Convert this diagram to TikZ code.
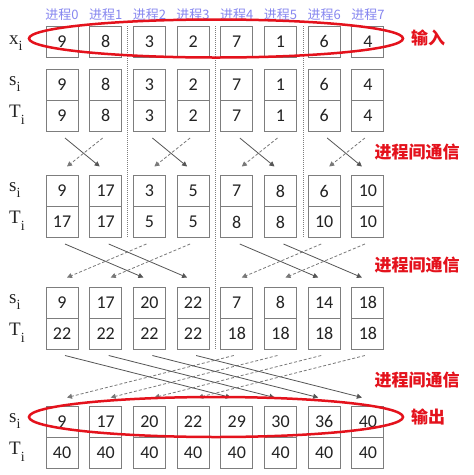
\documentclass[tikz,border=0pt]{standalone}
\usepackage{fontspec}
\setmainfont{Liberation Serif}
\newfontfamily\numfont{Carlito}
\newfontfamily\cjk{Noto Sans CJK SC}
\usetikzlibrary{arrows.meta}
\definecolor{boxgray}{RGB}{125,125,125}
\definecolor{numtext}{RGB}{35,35,35}
\definecolor{linegray}{RGB}{85,85,85}
\definecolor{dashgray}{RGB}{120,120,120}
\definecolor{procblue}{RGB}{135,135,240}
\definecolor{redmark}{RGB}{228,18,28}
\tikzset{
  cell/.style={draw=boxgray, line width=1pt, minimum width=32pt, minimum height=31pt,
    inner sep=0pt, text=numtext, font=\numfont\fontsize{18}{18}\selectfont},
  rowlab/.style={anchor=west, inner sep=0pt, text=numtext, font=\fontsize{19}{19}\selectfont},
  proclab/.style={inner sep=0pt, text=procblue, font=\cjk\fontsize{13}{13}\selectfont},
  redlab/.style={inner sep=0pt, text=redmark, font=\cjk\bfseries\fontsize{17}{17}\selectfont},
  solidarrow/.style={draw=linegray, line width=0.8pt, -{Triangle[width=5pt,length=5pt]}},
  dasharrow/.style={draw=dashgray, line width=0.8pt, dashed, dash pattern=on 3pt off 2pt, -{Triangle[width=5pt,length=5pt]}},
  sepline/.style={draw=boxgray, line width=1pt, densely dotted},
  redline/.style={draw=redmark, line width=2.5pt}
}
\begin{document}
\begin{tikzpicture}[x=1pt,y=-1pt]
\useasboundingbox (0,0) rectangle (474,475);
\fill[white] (0,0) rectangle (474,475);

% process labels
\foreach \i in {0,...,7}
  \node[proclab] (p-\i) at ({62+43.7*\i},15) {进程\i};

% row labels
\node[rowlab] (lx) at (9,43) {x\raisebox{-0.35em}{\fontsize{14}{14}\selectfont i}};
\node[rowlab] (ls1) at (9,84) {s\raisebox{-0.35em}{\fontsize{14}{14}\selectfont i}};
\node[rowlab] (lt1) at (9,115) {T\raisebox{-0.35em}{\fontsize{14}{14}\selectfont i}};
\node[rowlab] (ls2) at (9,190) {s\raisebox{-0.35em}{\fontsize{14}{14}\selectfont i}};
\node[rowlab] (lt2) at (9,221) {T\raisebox{-0.35em}{\fontsize{14}{14}\selectfont i}};
\node[rowlab] (ls3) at (9,302) {s\raisebox{-0.35em}{\fontsize{14}{14}\selectfont i}};
\node[rowlab] (lt3) at (9,333) {T\raisebox{-0.35em}{\fontsize{14}{14}\selectfont i}};
\node[rowlab] (ls4) at (9,421) {s\raisebox{-0.35em}{\fontsize{14}{14}\selectfont i}};
\node[rowlab] (lt4) at (9,452) {T\raisebox{-0.35em}{\fontsize{14}{14}\selectfont i}};

% cells
\foreach \v [count=\i from 0] in {9,8,3,2,7,1,6,4}
  \node[cell] (x-\i) at ({62+43.7*\i},41.5) {\v};
\foreach \v [count=\i from 0] in {9,8,3,2,7,1,6,4} {
  \node[cell] (s1-\i) at ({62+43.7*\i},84.5) {\v};
  \node[cell] (T1-\i) at ({62+43.7*\i},115.5) {\v};
}
\foreach \a/\b [count=\i from 0] in {9/17,17/17,3/5,5/5,7/8,8/8,6/10,10/10} {
  \node[cell] (s2-\i) at ({62+43.7*\i},191) {\a};
  \node[cell] (T2-\i) at ({62+43.7*\i},222) {\b};
}
\foreach \a/\b [count=\i from 0] in {9/22,17/22,20/22,22/22,7/18,8/18,14/18,18/18} {
  \node[cell] (s3-\i) at ({62+43.7*\i},302.5) {\a};
  \node[cell] (T3-\i) at ({62+43.7*\i},333.5) {\b};
}
\foreach \a/\b [count=\i from 0] in {9/40,17/40,20/40,22/40,29/40,30/40,36/40,40/40} {
  \node[cell] (s4-\i) at ({62+43.7*\i},421.5) {\a};
  \node[cell] (T4-\i) at ({62+43.7*\i},452.5) {\b};
}

% separators
\coordinate (sa1) at (127.5,26); \coordinate (sa2) at (127.5,238);
\coordinate (sb1) at (215,26);   \coordinate (sb2) at (215,350);
\coordinate (sc1) at (303,26);   \coordinate (sc2) at (303,238);
\draw[sepline] (sa1) -- (sa2);
\draw[sepline] (sb1) -- (sb2);
\draw[sepline] (sc1) -- (sc2);

% stage 1
\foreach \k in {0,2,4,6} {
  \pgfmathtruncatemacro{\m}{\k+1}
  \draw[solidarrow] ([xshift=3pt,yshift=-6.5pt]T1-\k.south) -- ([xshift=-6pt,yshift=8.5pt]s2-\m.north);
  \draw[dasharrow] ([xshift=-3pt,yshift=-6.5pt]T1-\m.south) -- ([xshift=5pt,yshift=8.5pt]s2-\k.north);
}
% stage 2
\foreach \k in {0,1,4,5} {
  \pgfmathtruncatemacro{\m}{\k+2}
  \draw[solidarrow] ([xshift=3pt,yshift=-6pt]T2-\k.south) -- ([xshift=-6pt,yshift=9pt]s3-\m.north);
  \draw[dasharrow] ([xshift=-3pt,yshift=-6pt]T2-\m.south) -- ([xshift=5pt,yshift=9pt]s3-\k.north);
}
% stage 3
\foreach \k in {0,1,2,3} {
  \pgfmathtruncatemacro{\m}{\k+4}
  \draw[solidarrow] ([xshift=3pt,yshift=-6pt]T3-\k.south) -- ([xshift=-6pt,yshift=8pt]s4-\m.north);
  \draw[dasharrow] ([xshift=-3pt,yshift=-6pt]T3-\m.south) -- ([xshift=5pt,yshift=8pt]s4-\k.north);
}

% ellipses
\draw[redline] (216,38.5) ellipse [x radius=187, y radius=19];
\draw[redline] (216,417) ellipse [x radius=187, y radius=20];

% red labels
\node[redlab] (in) at (428,38) {输入};
\node[redlab] (c1) at (417,152) {进程间通信};
\node[redlab] (c2) at (417,265) {进程间通信};
\node[redlab] (c3) at (417,380) {进程间通信};
\node[redlab] (out) at (428,417) {输出};
\end{tikzpicture}
\end{document}
